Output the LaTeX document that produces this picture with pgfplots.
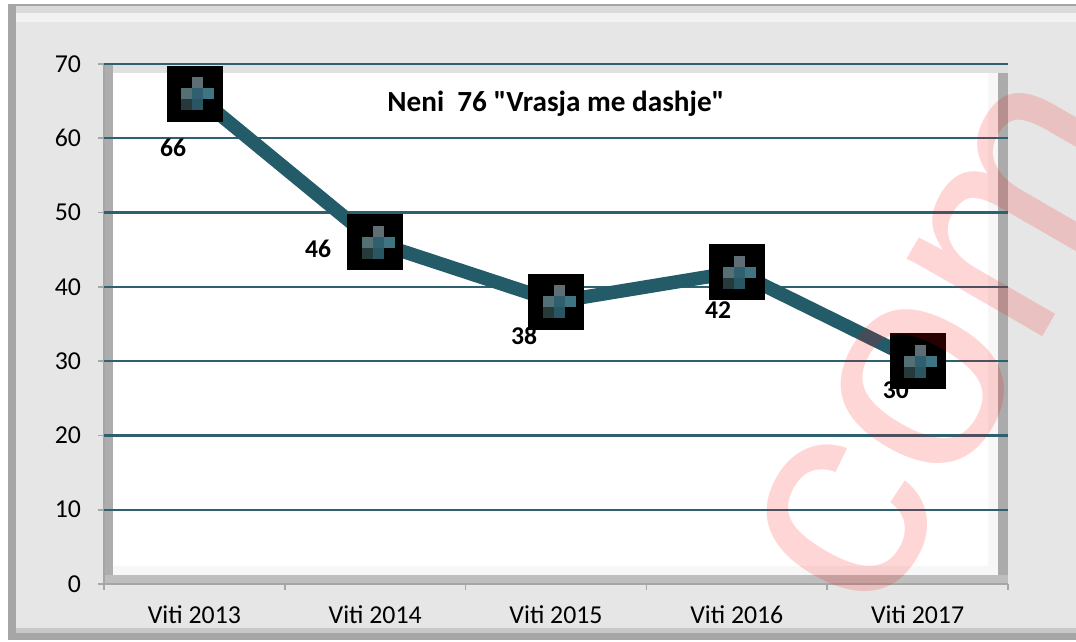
\documentclass[border=0pt]{standalone}
\usepackage{pgfplots}
\pgfplotsset{compat=1.18}
\usepackage{fontspec}
\setmainfont{Carlito}
\newfontfamily\plaincal{Carlito}
\newfontfamily\wmfont{Liberation Sans}
\definecolor{linec}{HTML}{235B69}
\definecolor{gridc}{HTML}{2E6070}
\definecolor{cTop}{HTML}{5F6E75}
\definecolor{cML}{HTML}{557075}
\definecolor{cC}{HTML}{30606F}
\definecolor{cR}{HTML}{3F7482}
\definecolor{cBL}{HTML}{263A3C}
\definecolor{cBC}{HTML}{2A5562}
\definecolor{axc}{HTML}{A6A6A6}
\pgfdeclareplotmark{xlcross}{%
  \pgfsetfillcolor{cTop}\pgfpathrectangle{\pgfpoint{-1.25pt}{2.75pt}}{\pgfpoint{5.5pt}{5.5pt}}\pgfusepath{fill}%
  \pgfsetfillcolor{cML}\pgfpathrectangle{\pgfpoint{-6.75pt}{-2.75pt}}{\pgfpoint{5.5pt}{5.5pt}}\pgfusepath{fill}%
  \pgfsetfillcolor{cC}\pgfpathrectangle{\pgfpoint{-1.25pt}{-2.75pt}}{\pgfpoint{5.5pt}{5.5pt}}\pgfusepath{fill}%
  \pgfsetfillcolor{cR}\pgfpathrectangle{\pgfpoint{4.25pt}{-2.75pt}}{\pgfpoint{5.5pt}{5.5pt}}\pgfusepath{fill}%
  \pgfsetfillcolor{cBL}\pgfpathrectangle{\pgfpoint{-6.75pt}{-8.25pt}}{\pgfpoint{5.5pt}{5.5pt}}\pgfusepath{fill}%
  \pgfsetfillcolor{cBC}\pgfpathrectangle{\pgfpoint{-1.25pt}{-8.25pt}}{\pgfpoint{5.5pt}{5.5pt}}\pgfusepath{fill}%
}
\pgfplotstableread{
x y
0 66
1 46
2 38
3 42
4 30
}\datatab
\begin{document}
\begin{tikzpicture}
\useasboundingbox (0,0) rectangle (538pt,321pt);
\begin{scope}[x=0.5pt,y=-0.5pt,yshift=321pt]
  % outer chart area
  \fill[white] (0,0) rectangle (1076,642);
  \fill[axc] (8,4) rectangle (1076,640);
  \fill[fill={rgb,255:red,230;green,230;blue,230}] (16,6) rectangle (1076,633);
  \fill[fill={rgb,255:red,218;green,218;blue,218}] (16,6) rectangle (1076,13);
  \fill[fill={rgb,255:red,242;green,242;blue,242}] (16,13) rectangle (1076,22);
  \fill[fill={rgb,255:red,200;green,200;blue,200}] (16,628) rectangle (1076,633);
  % plot area frame
  \fill[fill={rgb,255:red,224;green,224;blue,224}] (104,64) rectangle (1008,584);
  \fill[fill={rgb,255:red,173;green,173;blue,173}] (104,64) rectangle (113,584);
  \fill[fill={rgb,255:red,171;green,171;blue,171}] (998,73) rectangle (1008,584);
  \fill[fill={rgb,255:red,190;green,190;blue,190}] (104,575) rectangle (1008,584);
  \fill[white] (113,73) rectangle (998,575);
  \fill[fill={rgb,255:red,247;green,247;blue,247}] (988,73) rectangle (998,575);
  \fill[fill={rgb,255:red,247;green,247;blue,247}] (113,566) rectangle (998,575);
\end{scope}
\begin{axis}[
  at={(52pt,29pt)}, anchor=south west,
  scale only axis, width=452pt, height=260pt,
  xmin=-0.5, xmax=4.5, ymin=0, ymax=70,
  xtick={0,...,4},
  xticklabels={Viti 2013,Viti 2014,Viti 2015,Viti 2016,Viti 2017},
  minor xtick={-0.5,0.5,1.5,2.5,3.5,4.5},
  ytick={0,10,...,70},
  extra y ticks={10,20,...,70},
  extra y tick labels={},
  extra y tick style={grid=major, major tick length=0pt},
  major grid style={color=gridc, line width=1.2pt},
  tick align=outside,
  major tick length=3pt, minor tick length=3pt,
  major x tick style={draw=none},
  minor x tick style={draw=axc, line width=0.8pt},
  major y tick style={draw=axc, line width=0.8pt},
  axis x line*=bottom, axis y line*=left,
  axis line style={draw=axc, line width=0.8pt, -},
  /pgf/number format/assume math mode=true,
  tick label style={font=\fontsize{12.9}{15}\selectfont, color=black},
  yticklabel style={xshift=-5pt},
  xticklabel style={yshift=-4.5pt},
  clip=false,
]
\addplot[only marks, mark=square*, mark size=13.75pt, mark options={fill=black, draw=none}] table {\datatab};
\addplot[linec, line width=6.8pt, no marks, line join=round] table {\datatab};
\addplot[only marks, mark=xlcross] table {\datatab};
\node[font=\plaincal\fontsize{14.6}{17}\selectfont\bfseries] at (axis cs:2,64.7) {Neni\ \ 76 "Vrasja me dashje"};
\node[font=\fontsize{12.8}{15}\selectfont\bfseries] at (axis cs:-0.118,58.7) {66};
\node[font=\fontsize{12.8}{15}\selectfont\bfseries] at (axis cs:0.684,45.1) {46};
\node[font=\fontsize{12.8}{15}\selectfont\bfseries] at (axis cs:1.823,33.4) {38};
\node[font=\fontsize{12.8}{15}\selectfont\bfseries] at (axis cs:2.896,36.9) {42};
\node[font=\fontsize{12.8}{15}\selectfont\bfseries] at (axis cs:3.88,26.1) {30};
\end{axis}
\begin{scope}[x=0.5pt,y=-0.5pt,yshift=321pt]
  \clip (0,0) rectangle (1076,642);
  \node[rotate=60, text=red, opacity=0.16, font=\wmfont\fontsize{148}{148}\selectfont, inner sep=0pt] at (948,344) {com};
\end{scope}
\end{tikzpicture}
\end{document}
